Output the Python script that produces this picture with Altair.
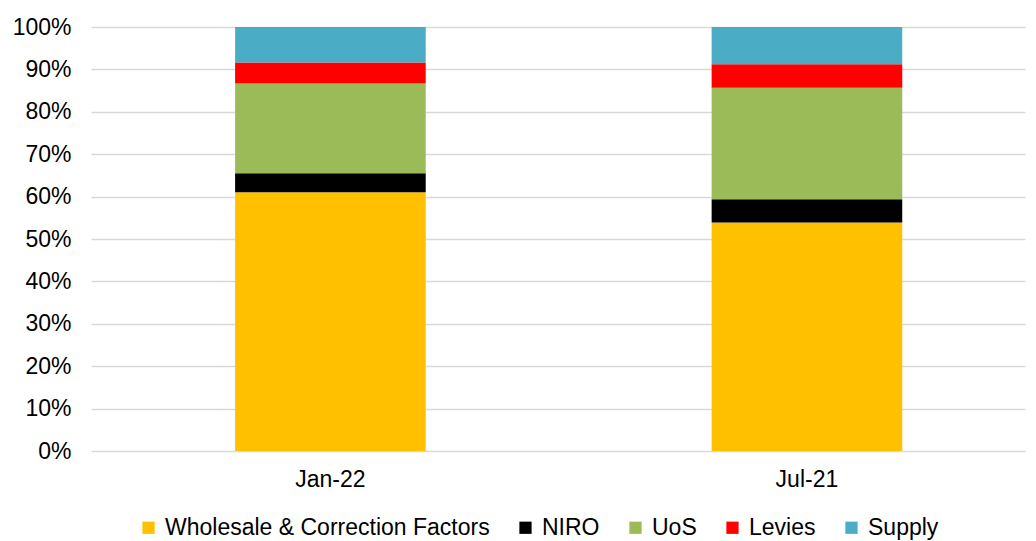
import altair as alt
import pandas as pd

categories = ["Jan-22", "Jul-21"]
components = ["Wholesale & Correction Factors", "NIRO", "UoS", "Levies", "Supply"]
colors = ["#FFC000", "#000000", "#9BBB59", "#FF0000", "#4BACC6"]
jan22 = [61.0, 4.5, 21.2, 4.9, 8.4]
jul21 = [53.9, 5.5, 26.3, 5.5, 8.8]

rows = []
for cat, vals in zip(categories, [jan22, jul21]):
    for i, (comp, v) in enumerate(zip(components, vals)):
        rows.append({"period": cat, "component": comp, "share": v / 100.0, "order": i})
df = pd.DataFrame(rows)

FONT = "Liberation Sans"

chart = alt.Chart(df).mark_bar().encode(
    x=alt.X("period:N", sort=categories, title=None,
            scale=alt.Scale(paddingInner=0.6, paddingOuter=0.28, align=0.54),
            axis=alt.Axis(labelAngle=0, labelFontSize=23, labelFont=FONT, labelColor="#000000",
                          ticks=False, domain=False, labelPadding=17)),
    y=alt.Y("share:Q", stack="zero", title=None,
            scale=alt.Scale(domain=[0, 1], nice=False),
            axis=alt.Axis(format=".0%", values=[i / 10 for i in range(11)], labelFontSize=23,
                          labelFont=FONT, labelColor="#000000", ticks=False, domain=False,
                          gridColor="#D9D9D9", gridWidth=1.5, labelPadding=20)),
    color=alt.Color("component:N", sort=components,
                    scale=alt.Scale(domain=components, range=colors),
                    legend=alt.Legend(orient="none", legendX=46, legendY=489,
                                      direction="horizontal", title=None,
                                      symbolType="square", symbolSize=150, symbolStrokeWidth=0,
                                      labelFontSize=23, labelFont=FONT, labelColor="#000000",
                                      labelLimit=0, columnPadding=24, symbolOffset=0,
                                      labelOffset=5)),
    order=alt.Order("order:Q", sort="ascending"),
).properties(
    width=934, height=424,
    padding={"left": 4, "top": 8, "right": 2, "bottom": 0},
).configure_view(stroke=None)

chart.save("out.html", embed_options={"renderer": "svg", "actions": False})
